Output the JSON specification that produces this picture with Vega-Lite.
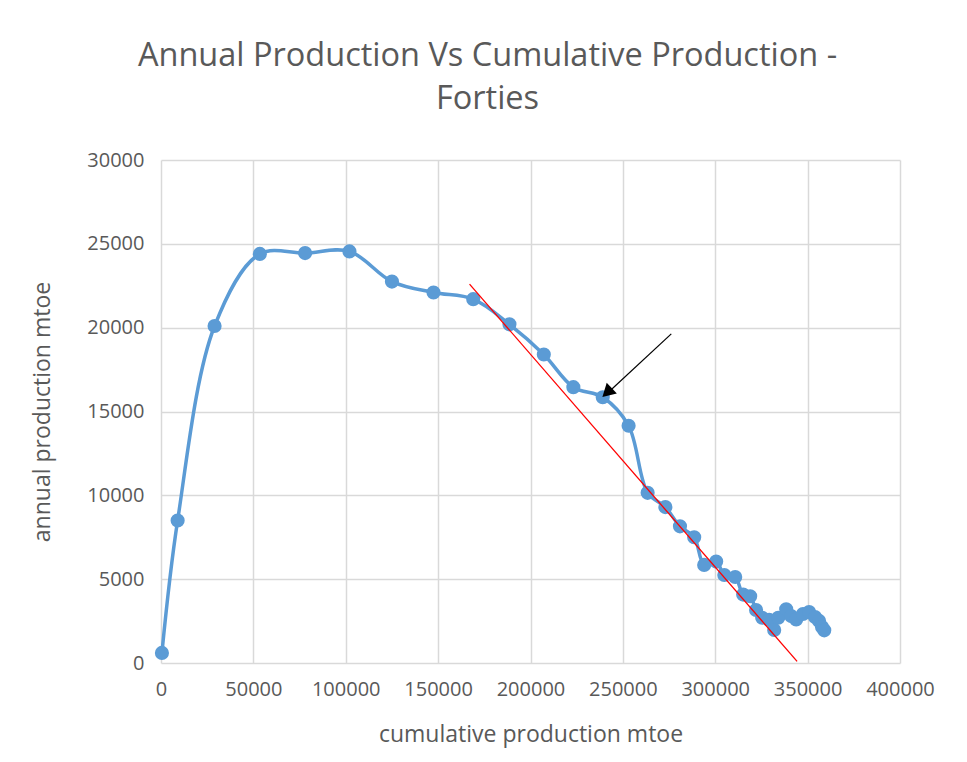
{
  "$schema": "https://vega.github.io/schema/vega-lite/v6.json",
  "autosize": {"type": "none"},
  "width": 739,
  "height": 503,
  "padding": {"left": 161, "top": 160, "right": 67, "bottom": 99},
  "background": "white",
  "title": {
    "text": ["Annual Production Vs Cumulative Production -", "Forties"],
    "anchor": "middle",
    "frame": "group",
    "dx": -43,
    "offset": 35,
    "font": "Open Sans",
    "fontSize": 32.5,
    "fontWeight": "normal",
    "color": "#595959",
    "lineHeight": 43
  },
  "config": {
    "view": {"stroke": null},
    "axis": {
      "labelFont": "Open Sans",
      "titleFont": "Open Sans",
      "labelFontSize": 20,
      "titleFontSize": 23,
      "labelColor": "#595959",
      "titleColor": "#595959",
      "titleFontWeight": "normal",
      "gridColor": "#d9d9d9",
      "gridWidth": 1.5,
      "ticks": false,
      "domain": false
    }
  },
  "layer": [
    {
      "data": {"name": "prod", "values": [
        {"cum": 500, "annual": 600},
        {"cum": 9000, "annual": 8500},
        {"cum": 29000, "annual": 20100},
        {"cum": 53500, "annual": 24400},
        {"cum": 78000, "annual": 24450},
        {"cum": 102000, "annual": 24550},
        {"cum": 125000, "annual": 22750},
        {"cum": 147500, "annual": 22100},
        {"cum": 169000, "annual": 21700},
        {"cum": 188600, "annual": 20200},
        {"cum": 207200, "annual": 18400},
        {"cum": 223200, "annual": 16450},
        {"cum": 239100, "annual": 15850},
        {"cum": 253100, "annual": 14150},
        {"cum": 263400, "annual": 10150},
        {"cum": 273000, "annual": 9300},
        {"cum": 280900, "annual": 8150},
        {"cum": 288600, "annual": 7500},
        {"cum": 294000, "annual": 5850},
        {"cum": 300500, "annual": 6050},
        {"cum": 304900, "annual": 5250},
        {"cum": 310800, "annual": 5130},
        {"cum": 315100, "annual": 4080},
        {"cum": 318900, "annual": 3980},
        {"cum": 322100, "annual": 3160},
        {"cum": 325400, "annual": 2700},
        {"cum": 329200, "annual": 2570},
        {"cum": 331900, "annual": 1970},
        {"cum": 334100, "annual": 2700},
        {"cum": 338400, "annual": 3200},
        {"cum": 341100, "annual": 2800},
        {"cum": 343800, "annual": 2600},
        {"cum": 347500, "annual": 2920},
        {"cum": 350800, "annual": 3040},
        {"cum": 354000, "annual": 2740},
        {"cum": 356200, "annual": 2510},
        {"cum": 357800, "annual": 2150},
        {"cum": 359000, "annual": 1950}
      ]},
      "layer": [
        {
          "mark": {"type": "line", "interpolate": "catmull-rom", "color": "#5B9BD5", "strokeWidth": 3.5},
          "encoding": {
            "x": {"field": "cum", "type": "quantitative", "scale": {"domain": [0, 400000], "nice": false},
              "axis": {"title": "cumulative production mtoe", "values": [0, 50000, 100000, 150000, 200000, 250000, 300000, 350000, 400000], "format": "d", "labelPadding": 16, "titlePadding": 24, "labelFlush": false}},
            "y": {"field": "annual", "type": "quantitative", "scale": {"domain": [0, 30000], "nice": false},
              "axis": {"title": "annual production mtoe", "values": [0, 5000, 10000, 15000, 20000, 25000, 30000], "format": "d", "labelPadding": 17, "titlePadding": 32, "labelFlush": false}}
          }
        },
        {
          "mark": {"type": "point", "filled": true, "opacity": 1, "color": "#5B9BD5", "size": 200, "shape": "circle"},
          "encoding": {
            "x": {"field": "cum", "type": "quantitative"},
            "y": {"field": "annual", "type": "quantitative"}
          }
        }
      ]
    },
    {
      "data": {"name": "trend", "values": [
        {"cum": 167000, "annual": 22600},
        {"cum": 344300, "annual": 100}
      ]},
      "mark": {"type": "line", "color": "#FF0000", "strokeWidth": 1.3},
      "encoding": {
        "x": {"field": "cum", "type": "quantitative"},
        "y": {"field": "annual", "type": "quantitative"}
      }
    },
    {
      "data": {"name": "arrow", "values": [
        {"cum": 276200, "annual": 19630},
        {"cum": 242600, "annual": 16190}
      ]},
      "mark": {"type": "line", "color": "black", "strokeWidth": 1.2},
      "encoding": {
        "x": {"field": "cum", "type": "quantitative"},
        "y": {"field": "annual", "type": "quantitative"}
      }
    },
    {
      "data": {"name": "arrowhead", "values": [
        {"cum": 242300, "annual": 16220}
      ]},
      "mark": {"type": "point", "shape": "triangle", "angle": 227, "filled": true, "opacity": 1, "color": "black", "size": 220},
      "encoding": {
        "x": {"field": "cum", "type": "quantitative"},
        "y": {"field": "annual", "type": "quantitative"}
      }
    }
  ]
}
